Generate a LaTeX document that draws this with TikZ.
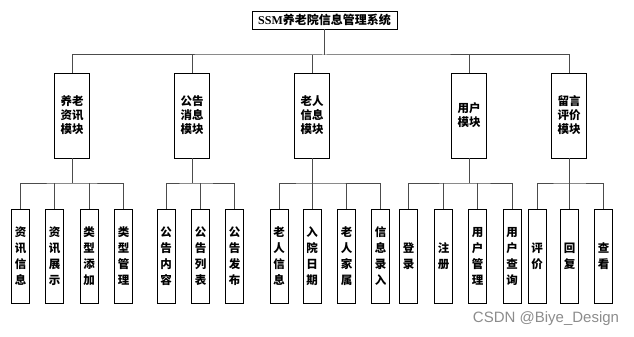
\documentclass[tikz,border=0pt]{standalone}
\usepackage{fontspec}
\setmainfont{Liberation Serif}
\setsansfont{Liberation Sans}
\newfontfamily\cjk{Noto Sans CJK SC}
\usetikzlibrary{positioning}
\tikzset{
  titlebox/.style = {
    rectangle,
    draw=black,
    fill=white,
    line width=0.8pt,
    minimum width=145pt,
    minimum height=18pt,
    inner sep=0pt,
    font=\fontsize{12}{13}\selectfont\bfseries
  },
  modbox/.style = {
    rectangle,
    draw=black,
    fill=white,
    line width=0.8pt,
    minimum width=35pt,
    minimum height=85pt,
    inner sep=0pt,
    align=center,
    font=\cjk\bfseries\fontsize{11.5}{14}\selectfont
  },
  leafbox/.style = {
    rectangle,
    draw=black,
    fill=white,
    line width=0.8pt,
    minimum width=18pt,
    minimum height=94pt,
    inner sep=0pt,
    align=center,
    font=\cjk\bfseries\fontsize{11.5}{16}\selectfont
  },
  link/.style = {
    draw=black!70,
    line width=1pt
  }
}

\begin{document}
\begin{tikzpicture}[x=1pt, y=-1pt]
  \useasboundingbox (0, 0) rectangle (634, 337);

  % Root
  \node[titlebox] (root) at (324.5, 20) {SSM{\cjk 养老院信息管理系统}};

  % Modules
  \node[modbox] (zixun) at (72, 115.5) {养老\\资讯\\模块};
  \node[modbox] (gonggao) at (192, 115.5) {公告\\消息\\模块};
  \node[modbox] (laoren) at (312, 115.5) {老人\\信息\\模块};
  \node[modbox] (yonghu) at (469, 115.5) {用户\\模块};
  \node[modbox] (liuyan) at (569, 115.5) {留言\\评价\\模块};

  % Leaves: zixun
  \node[leafbox] (zx1) at (20.5, 256) {资\\讯\\信\\息};
  \node[leafbox] (zx2) at (54.5, 256) {资\\讯\\展\\示};
  \node[leafbox] (zx3) at (89, 256) {类\\型\\添\\加};
  \node[leafbox] (zx4) at (123.5, 256) {类\\型\\管\\理};

  % Leaves: gonggao
  \node[leafbox] (gg1) at (166, 256) {公\\告\\内\\容};
  \node[leafbox] (gg2) at (200.5, 256) {公\\告\\列\\表};
  \node[leafbox] (gg3) at (234.5, 256) {公\\告\\发\\布};

  % Leaves: laoren
  \node[leafbox] (lr1) at (279, 256) {老\\人\\信\\息};
  \node[leafbox] (lr2) at (312, 256) {入\\院\\日\\期};
  \node[leafbox] (lr3) at (346.5, 256) {老\\人\\家\\属};
  \node[leafbox] (lr4) at (380.5, 256) {信\\息\\录\\入};

  % Leaves: yonghu
  \node[leafbox] (yh1) at (408.5, 256) {登\\录};
  \node[leafbox] (yh2) at (443.5, 256) {注\\册};
  \node[leafbox] (yh3) at (477.5, 256) {用\\户\\管\\理};
  \node[leafbox] (yh4) at (512, 256) {用\\户\\查\\询};

  % Leaves: liuyan
  \node[leafbox] (ly1) at (537, 256) {评\\价};
  \node[leafbox] (ly2) at (569.5, 256) {回\\复};
  \node[leafbox] (ly3) at (603.5, 256) {查\\看};

  % Bus points
  \coordinate (bus) at (root.south |- 0, 55);
  \coordinate (subzx) at (72, 183);
  \coordinate (subgg) at (192, 183);
  \coordinate (sublr) at (312, 183);
  \coordinate (subyh) at (469, 183);
  \coordinate (subly) at (569, 183);

  % Root to modules
  \draw[link] (root.south) -- (bus);
  \draw[link] (zixun.north) |- (bus) -| (liuyan.north);
  \draw[link] (gonggao.north) -- (gonggao.north |- bus);
  \draw[link] (laoren.north) -- (laoren.north |- bus);
  \draw[link] (yonghu.north) -- (yonghu.north |- bus);

  % Modules to leaves
  \draw[link] (zixun.south) -- (subzx);
  \draw[link] (zx1.north) |- (subzx) -| (zx4.north);
  \draw[link] (zx2.north) -- (zx2.north |- subzx);
  \draw[link] (zx3.north) -- (zx3.north |- subzx);

  \draw[link] (gonggao.south) -- (subgg);
  \draw[link] (gg1.north) |- (subgg) -| (gg3.north);
  \draw[link] (gg2.north) -- (gg2.north |- subgg);

  \draw[link] (laoren.south) -- (sublr);
  \draw[link] (lr1.north) |- (sublr) -| (lr4.north);
  \draw[link] (lr2.north) -- (lr2.north |- sublr);
  \draw[link] (lr3.north) -- (lr3.north |- sublr);

  \draw[link] (yonghu.south) -- (subyh);
  \draw[link] (yh1.north) |- (subyh) -| (yh4.north);
  \draw[link] (yh2.north) -- (yh2.north |- subyh);
  \draw[link] (yh3.north) -- (yh3.north |- subyh);

  \draw[link] (liuyan.south) -- (subly);
  \draw[link] (ly1.north) |- (subly) -| (ly3.north);
  \draw[link] (ly2.north) -- (ly2.north |- subly);

  % Watermark
  \node[text=black!45, font=\sffamily\fontsize{15}{17}\selectfont] (mark) at (546, 319) {CSDN @Biye\_Design};
\end{tikzpicture}
\end{document}
